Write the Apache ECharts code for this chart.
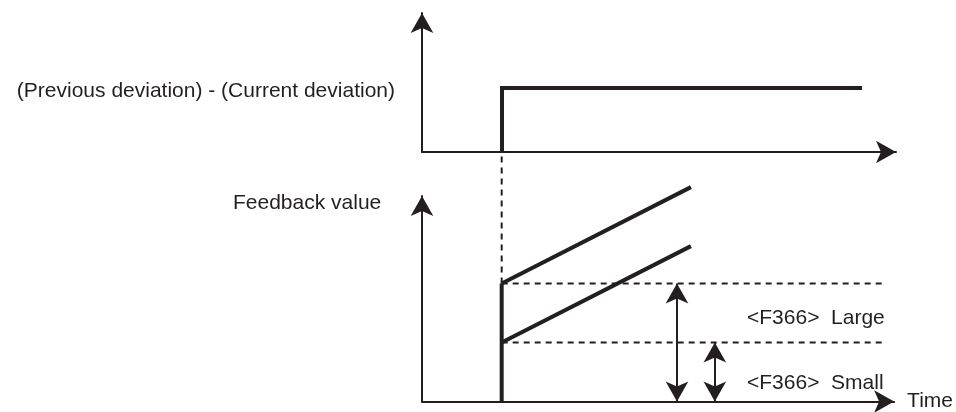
<!DOCTYPE html>
<html>
<head>
<meta charset="utf-8">
<script src="https://cdn.jsdelivr.net/npm/echarts@6/dist/echarts.min.js"></script>
<style>
  html, body { margin: 0; padding: 0; background: #fff; }
  #chart { width: 956px; height: 412px; }
</style>
</head>
<body>
<div id="chart"></div>
<script>
// axis ranges
const timeMax = 118.5
const diffMax = 100
const feedbackMax = 104.5

// upper plot: (previous deviation) - (current deviation)
const stepTime = [20, 20, 110]
const stepDiff = [0, 46, 46]

// lower plot: feedback value
const jumpTime = [20, 20]
const jumpValue = [0, 60]
const largeTime = [20, 67.5]
const largeValue = [60, 109]
const smallTime = [20, 67.5]
const smallValue = [30, 79]

// F366 thresholds
const thresholdLarge = 60
const thresholdSmall = 30
const thresholdEnd = 116
const arrowLargeTime = 64
const arrowSmallTime = 73.5
const guideTop = 126.5 // dashed guide reaches up to upper time axis

const ink = '#231f20'
const font = '"Liberation Sans", Arial, sans-serif'

const zip = (xs, ys) => xs.map((x, i) => [x, ys[i]])

const axisLine = {
  show: true,
  onZero: false,
  symbol: ['none', 'arrow'],
  symbolSize: [17, 20],
  lineStyle: { color: ink, width: 2 }
}
const axisBase = {
  type: 'value', min: 0,
  axisLine: axisLine, axisTick: { show: false },
  axisLabel: { show: false }, splitLine: { show: false }
}

const thick = { color: ink, width: 4, cap: 'butt', join: 'miter' }
const dashed = { color: ink, width: 2, type: [6, 5] }

const chart = echarts.init(document.getElementById('chart'))
chart.setOption({
  animation: false,
  backgroundColor: '#fff',
  textStyle: { fontFamily: font },
  grid: [
    { left: 422, right: 60, top: 13, bottom: 260 },
    { left: 422, right: 60, top: 196, bottom: 7 }
  ],
  xAxis: [
    Object.assign({ gridIndex: 0, max: timeMax }, axisBase),
    Object.assign({ gridIndex: 1, max: timeMax }, axisBase, {
      name: 'Time', nameLocation: 'end', nameGap: 13,
      nameTextStyle: { color: ink, fontSize: 21, fontFamily: font, padding: [9, 0, 0, 0] }
    })
  ],
  yAxis: [
    Object.assign({ gridIndex: 0, max: diffMax }, axisBase),
    Object.assign({ gridIndex: 1, max: feedbackMax }, axisBase)
  ],
  series: [
    {
      type: 'line', xAxisIndex: 0, yAxisIndex: 0,
      data: zip(stepTime, stepDiff), symbol: 'none', lineStyle: thick
    },
    {
      type: 'line', xAxisIndex: 1, yAxisIndex: 1,
      data: zip(jumpTime, jumpValue), symbol: 'none', lineStyle: thick
    },
    {
      type: 'line', xAxisIndex: 1, yAxisIndex: 1, clip: false,
      data: zip(largeTime, largeValue), symbol: 'none', lineStyle: thick
    },
    {
      type: 'line', xAxisIndex: 1, yAxisIndex: 1, clip: false,
      data: zip(smallTime, smallValue), symbol: 'none', lineStyle: thick
    },
    {
      type: 'line', xAxisIndex: 1, yAxisIndex: 1, clip: false,
      data: [[jumpTime[0], thresholdLarge], [jumpTime[0], guideTop]],
      symbol: 'none', lineStyle: dashed
    },
    {
      type: 'line', xAxisIndex: 1, yAxisIndex: 1,
      data: [[jumpTime[0], thresholdLarge], [thresholdEnd, thresholdLarge]],
      symbol: 'none', lineStyle: dashed
    },
    {
      type: 'line', xAxisIndex: 1, yAxisIndex: 1,
      data: [[jumpTime[0], thresholdSmall], [thresholdEnd, thresholdSmall]],
      symbol: 'none', lineStyle: dashed,
      markLine: {
        silent: true,
        symbol: ['arrow', 'arrow'],
        symbolSize: [17, 20],
        label: { show: false },
        lineStyle: { color: ink, width: 2, type: 'solid' },
        data: [
          [{ coord: [arrowLargeTime, 0] }, { coord: [arrowLargeTime, thresholdLarge] }],
          [{ coord: [arrowSmallTime, 0] }, { coord: [arrowSmallTime, thresholdSmall] }]
        ]
      }
    }
  ],
  graphic: [
    {
      type: 'text', right: 956 - 395, top: 81,
      style: { text: '(Previous deviation) - (Current deviation)', fill: ink, font: '21px ' + font }
    },
    {
      type: 'text', left: 233, top: 193,
      style: { text: 'Feedback value', fill: ink, font: '21px ' + font }
    },
    {
      type: 'text', left: 747, top: 308,
      style: { text: '<F366>  Large', fill: ink, font: '21px ' + font }
    },
    {
      type: 'text', left: 747, top: 373,
      style: { text: '<F366>  Small', fill: ink, font: '21px ' + font }
    }
  ]
})
</script>
</body>
</html>
